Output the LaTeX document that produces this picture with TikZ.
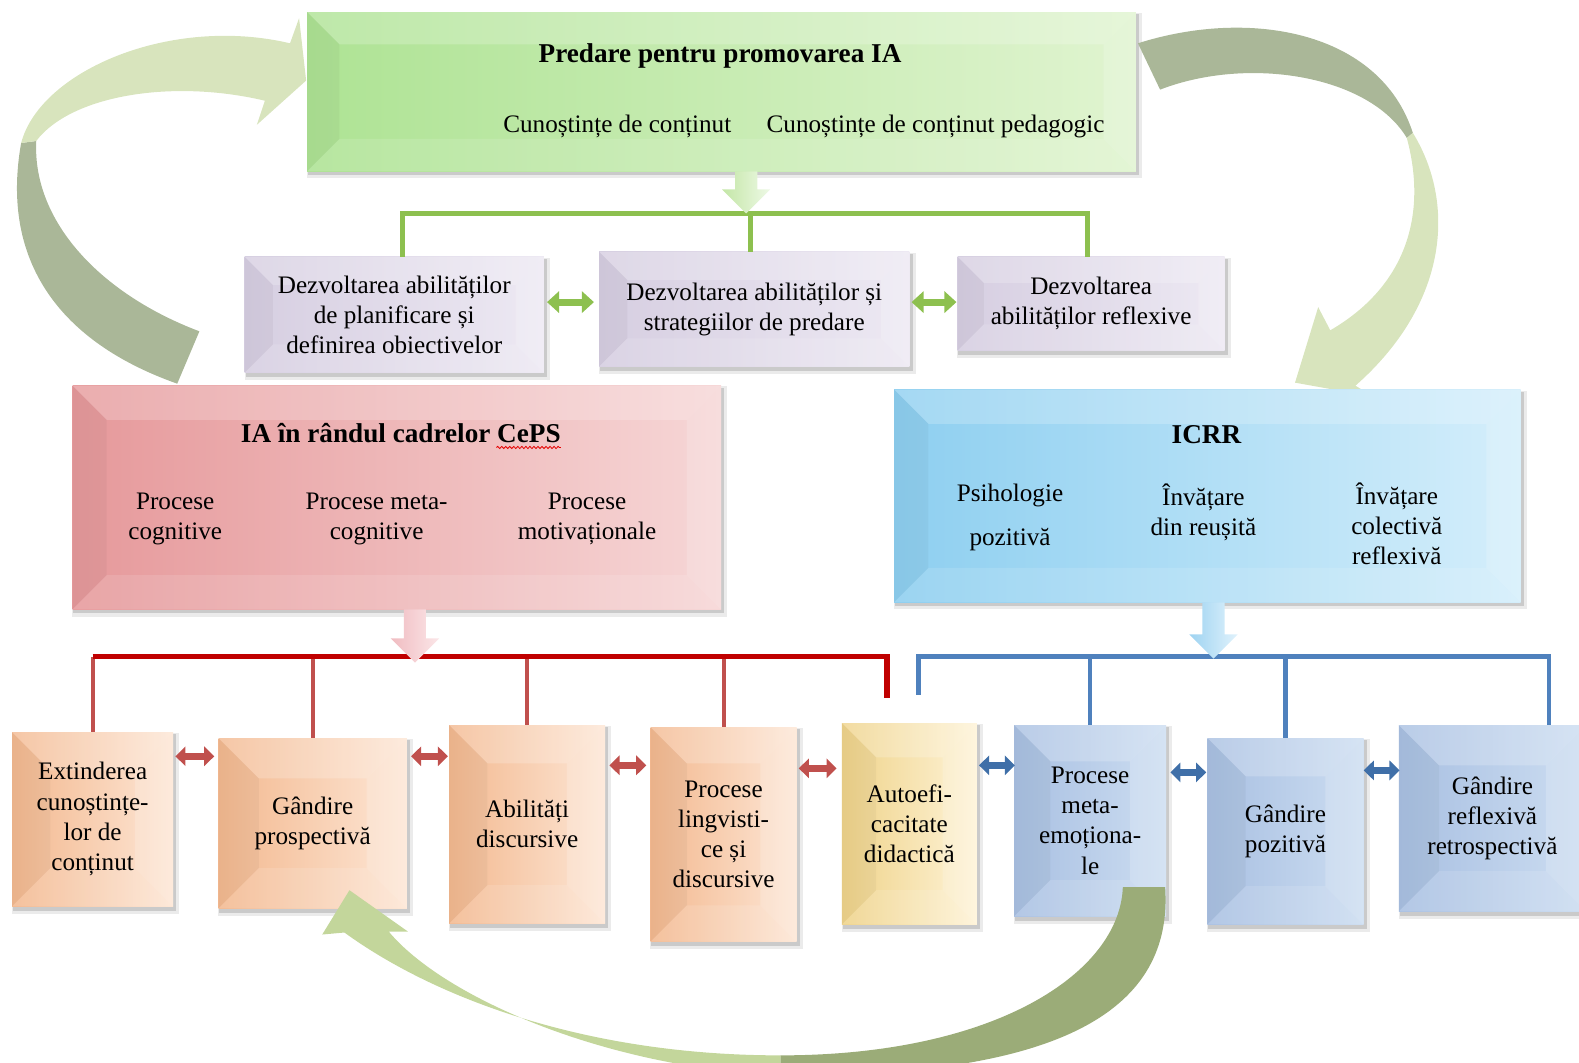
\documentclass[tikz,border=0pt]{standalone}
\usepackage{fontspec}
\setmainfont{Liberation Serif}
\usetikzlibrary{calc,arrows.meta,decorations.pathmorphing}
\pgfdeclarelayer{bg}
\pgfsetlayers{bg,main}

\definecolor{arcLight}{HTML}{D8E4BD}
\definecolor{arcDark}{HTML}{AAB798}
\definecolor{botLight}{HTML}{C3D69B}
\definecolor{botDark}{HTML}{9BAC78}
\definecolor{gLine}{HTML}{8DC04F}
\definecolor{rLine}{HTML}{C00000}
\definecolor{rVert}{HTML}{C0504D}
\definecolor{bLine}{HTML}{4F81BD}
\definecolor{rArr}{HTML}{C0504D}
\definecolor{bArr}{HTML}{3F6FA8}
\definecolor{gArr}{HTML}{8DC04F}
\definecolor{greenL}{HTML}{AEE394}
\definecolor{greenR}{HTML}{E0F4D0}
\definecolor{lilacL}{HTML}{D6CEE1}
\definecolor{lilacR}{HTML}{EDE9F3}
\definecolor{roseL}{HTML}{E6999B}
\definecolor{roseR}{HTML}{F6D6D6}
\definecolor{skyL}{HTML}{8ECFF0}
\definecolor{skyR}{HTML}{D4EEFB}
\definecolor{peachL}{HTML}{F3B990}
\definecolor{peachR}{HTML}{FDE6D5}
\definecolor{sandL}{HTML}{EFD38A}
\definecolor{sandR}{HTML}{FEF3D7}
\definecolor{steelL}{HTML}{A9C0E2}
\definecolor{steelR}{HTML}{CCDDF1}
\definecolor{gArrL}{HTML}{C3E6A6}
\definecolor{gArrR}{HTML}{EEF9E6}
\definecolor{rArrL}{HTML}{F0BCC1}
\definecolor{rArrR}{HTML}{FBE6E8}
\definecolor{bArrL}{HTML}{9ED3F1}
\definecolor{bArrR}{HTML}{E0F2FC}

\newcommand\txtfont{\fontsize{25}{30}\selectfont}
\newcommand\hdfont{\fontsize{27}{32}\selectfont\bfseries}
\def\bv{30}

% downward block arrow from #1 to tip #2, shaded #3 -> #4
\newcommand\dnarr[4]{%
  \shade[left color=#3, right color=#4]
    ($(#1)+(-11,0)$) -- ($(#1)+(11,0)$) -- ($(#2)+(11,-24)$) -- ($(#2)+(24,-24)$)
    -- (#2) -- ($(#2)+(-24,-24)$) -- ($(#2)+(-11,-24)$) -- cycle;}

\tikzset{
  bv/.store in=\bv,
  bevelpic/.style={path picture={
    \path (path picture bounding box.north west) coordinate (q1)
          (path picture bounding box.north east) coordinate (q2)
          (path picture bounding box.south east) coordinate (q3)
          (path picture bounding box.south west) coordinate (q4);
    \fill[white,opacity=.20] (q1) -- (q2) -- ($(q2)+(-\bv,\bv)$) -- ($(q1)+(\bv,\bv)$) -- cycle;
    \fill[black,opacity=.035] (q1) -- ($(q1)+(\bv,\bv)$) -- ($(q4)+(\bv,-\bv)$) -- (q4) -- cycle;
    \fill[white,opacity=.18] (q2) -- (q3) -- ($(q3)+(-\bv,-\bv)$) -- ($(q2)+(-\bv,\bv)$) -- cycle;
    \fill[white,opacity=.12] (q4) -- (q3) -- ($(q3)+(-\bv,-\bv)$) -- ($(q4)+(\bv,-\bv)$) -- cycle;
  }},
  box/.style 2 args={rectangle, inner sep=0pt, draw=none, left color=#1, right color=#2,
    bevelpic, font=\txtfont, align=center, text=black},
  txt/.style={inner sep=0pt, font=\txtfont, align=center, text=black},
  hd/.style={inner sep=0pt, font=\hdfont, align=center, text=black},
  gline/.style={draw=gLine, line width=5pt},
  rbar/.style={draw=rLine, line width=5.5pt},
  rvert/.style={draw=rVert, line width=4pt},
  bbar/.style={draw=bLine, line width=4.5pt},
  gdbl/.style={draw=gArr, line width=7pt, {Triangle[length=12pt,width=21pt]}-{Triangle[length=12pt,width=21pt]}},
  rdbl/.style={draw=rArr, line width=7pt, {Triangle[length=10pt,width=19pt]}-{Triangle[length=10pt,width=19pt]}},
  bdbl/.style={draw=bArr, line width=7pt, {Triangle[length=10pt,width=19pt]}-{Triangle[length=10pt,width=19pt]}},
}

\begin{document}
\begin{tikzpicture}[x=1pt,y=-1pt]
\useasboundingbox (0,0) rectangle (1568,1055);

% ---- feedback arcs behind the boxes ----
\fill[arcDark] (176,381) .. controls (60,340) and (0,260) .. (21,142)
  -- (36,140) .. controls (32,220) and (100,292) .. (198,329) -- cycle;
\fill[arcLight] (21,142) .. controls (40,70) and (170,15) .. (288,43)
  -- (297,18) -- (304,80) -- (255,124) -- (263,100)
  .. controls (170,78) and (70,95) .. (36,140) -- cycle;

\fill[arcDark] (1130,43) .. controls (1240,8) and (1370,30) .. (1403,132)
  -- (1397,137) .. controls (1360,75) and (1240,55) .. (1152,89) -- cycle;
\fill[arcLight] (1403,132) .. controls (1445,200) and (1440,300) .. (1346,383)
  -- (1364,394) -- (1286,380) -- (1309,305) -- (1321,328)
  .. controls (1395,285) and (1418,215) .. (1397,137) -- cycle;

% ---- main boxes ----
\node[box={greenL}{greenR}, minimum width=823pt, minimum height=158pt, bv=32] (top) at (716.5,91) {};
\node[hd] (toptitle) at (715,56) {Predare pentru promovarea IA};
\node[txt] (tk1) at (613,126) {Cunoștințe de conținut};
\node[txt] (tk2) at (929,126) {Cunoștințe de conținut pedagogic};

\node[box={lilacL}{lilacR}, minimum width=297pt, minimum height=115pt, bv=28] (b1) at (391.5,312.5)
  {Dezvoltarea abilităților\\de planificare și\\definirea obiectivelor};
\node[box={lilacL}{lilacR}, minimum width=308pt, minimum height=114pt, bv=28] (b2) at (749,307)
  {Dezvoltarea abilităților și\\strategiilor de predare};
\node[box={lilacL}{lilacR}, minimum width=265pt, minimum height=93pt, bv=26] (b3) at (1083.5,301.5)
  {Dezvoltarea\\abilităților reflexive};

\node[box={roseL}{roseR}, minimum width=644pt, minimum height=222pt, bv=34] (red) at (394,494) {};
\node[hd] (redtitle) at (398,430) {IA în rândul cadrelor CePS};
\node[txt] (rk1) at (174,515) {Procese\\cognitive};
\node[txt] (rk2) at (374,515) {Procese meta-\\cognitive};
\node[txt] (rk3) at (583,515) {Procese\\motivaționale};

\node[box={skyL}{skyR}, minimum width=622pt, minimum height=211pt, bv=34] (blue) at (1199,492.5) {};
\node[hd] (bluetitle) at (1198,432) {ICRR};
\node[txt] (bk1) at (1003,514) {Psihologie\\[14pt]pozitivă};
\node[txt] (bk2) at (1195,509) {Învățare\\din reușită};
\node[txt] (bk3) at (1387,520) {Învățare\\colectivă\\reflexivă};

% ---- bottom row ----
\node[box={peachL}{peachR}, minimum width=160pt, minimum height=173pt, bv=38] (c1) at (92,813.5)
  {Extinderea\\cunoștințe-\\lor de\\conținut};
\node[box={peachL}{peachR}, minimum width=187pt, minimum height=169pt, bv=40] (c2) at (310.5,817.5)
  {Gândire\\prospectivă};
\node[box={peachL}{peachR}, minimum width=155pt, minimum height=197pt, bv=38] (c3) at (523.5,818.5)
  {Abilități\\discursive};
\node[box={peachL}{peachR}, minimum width=145pt, minimum height=213pt, bv=36] (c4) at (718.5,828.5)
  {Procese\\lingvisti-\\ce și\\discursive};
\node[box={sandL}{sandR}, minimum width=134pt, minimum height=200pt, bv=34] (c5) at (903,818)
  {Autoefi-\\cacitate\\didactică};
\node[box={steelL}{steelR}, minimum width=151pt, minimum height=190pt, bv=36] (c6) at (1082.5,815)
  {Procese\\meta-\\emoționa-\\le};
\node[box={steelL}{steelR}, minimum width=155pt, minimum height=185pt, bv=38] (c7) at (1276.5,825.5)
  {Gândire\\pozitivă};
\node[box={steelL}{steelR}, minimum width=186pt, minimum height=185pt, bv=40] (c8) at (1482,812.5)
  {Gândire\\reflexivă\\retrospectivă};

% spell-check underline under "CePS"
\draw[red!90!black, line width=0.8pt, decorate,
      decoration={snake, amplitude=1.1pt, segment length=4pt}]
  ([xshift=-64pt,yshift=-5pt]redtitle.base east) -- ([yshift=-5pt]redtitle.base east);

% ---- soft shadows under the boxes ----
\begin{pgfonlayer}{bg}
\foreach \n in {top,b1,b2,b3,red,blue,c1,c2,c3,c4,c5,c6,c7,c8} {
  \fill[black,opacity=.08] ([shift={(0,1)}]\n.north west) rectangle ([shift={(6,7)}]\n.south east);
  \fill[black,opacity=.14] ([shift={(1,2)}]\n.north west) rectangle ([shift={(3,4)}]\n.south east);
}
\end{pgfonlayer}

% ---- green tree under the top box ----
\coordinate (gbar) at (741,212);
\draw[gline] (b1.north -| 400,0) |- (gbar) -| (b3.north -| 1080,0);
\draw[gline] (gbar -| 745,0) -- (b2.north -| 745,0);
\coordinate (gfrom) at (gbar |- top.south);
\dnarr{gfrom}{gbar}{gArrL}{gArrR}

\draw[gdbl] ([xshift=3pt]b1.east |- 0,300) -- ([xshift=-5pt]b2.west |- 0,300);
\draw[gdbl] ([xshift=2pt]b2.east |- 0,300) -- ([xshift=-1pt]b3.west |- 0,300);

% ---- red tree ----
\coordinate (rbarpt) at (412,652);
\coordinate (rEnd) at ([xshift=-22pt,yshift=25pt]c5.north);
\foreach \n in {c1,c2,c3,c4} \draw[rvert] (\n.north |- rbarpt) -- (\n.north);
\draw[rbar] (c1.north |- rbarpt) -- (rbarpt -| rEnd) -- (rEnd);
\coordinate (rfrom) at (rbarpt |- red.south);
\coordinate (rtip) at ([yshift=-6pt]rbarpt);
\dnarr{rfrom}{rtip}{rArrL}{rArrR}

% ---- blue tree ----
\coordinate (bbarpt) at (1205,652);
\coordinate (bEnd) at ([xshift=9pt,yshift=28pt]c5.north);
\coordinate (bRight) at (1538,652);
\draw[bbar] (bEnd) -- (bEnd |- bbarpt) -- (bRight) -- (bRight |- c8.north);
\draw[bbar] (c6.north |- bbarpt) -- (c6.north);
\draw[bbar] (c7.north |- bbarpt) -- (c7.north);
\coordinate (bfrom) at (bbarpt |- blue.south);
\coordinate (btip) at ([yshift=-2pt]bbarpt);
\dnarr{bfrom}{btip}{bArrL}{bArrR}

% ---- links between neighbours in the bottom row ----
\draw[rdbl] ([xshift=2pt]c1.east |- 0,751) -- ([xshift=-4pt]c2.west |- 0,751);
\draw[rdbl] ([xshift=4pt]c2.east |- 0,751) -- ([xshift=-1pt]c3.west |- 0,751);
\draw[rdbl] ([xshift=4pt]c3.east |- 0,760) -- ([xshift=-4pt]c4.west |- 0,760);
\draw[rdbl] ([xshift=2pt]c4.east |- 0,763) -- ([xshift=-5pt]c5.west |- 0,763);
\draw[bdbl] ([xshift=2pt]c5.east |- 0,760) -- ([xshift=1pt]c6.west |- 0,760);
\draw[bdbl] ([xshift=4pt]c6.east |- 0,767) -- ([xshift=-1pt]c7.west |- 0,767);
\draw[bdbl] ([xshift=0pt]c7.east |- 0,765) -- ([xshift=1pt]c8.west |- 0,765);

% ---- bottom feedback arc, drawn over the row ----
\fill[botDark] (1115,881) -- (1157,881) .. controls (1165,1000) and (1060,1070) .. (775,1068)
  -- (775,1048) .. controls (990,1048) and (1112,965) .. (1115,881) -- cycle;
\fill[botLight] (775,1048) .. controls (580,1048) and (430,990) .. (342,926)
  -- (320,928) -- (347,884) -- (405,925) -- (386,925)
  .. controls (440,990) and (600,1060) .. (775,1068) -- cycle;
\end{tikzpicture}
\end{document}
